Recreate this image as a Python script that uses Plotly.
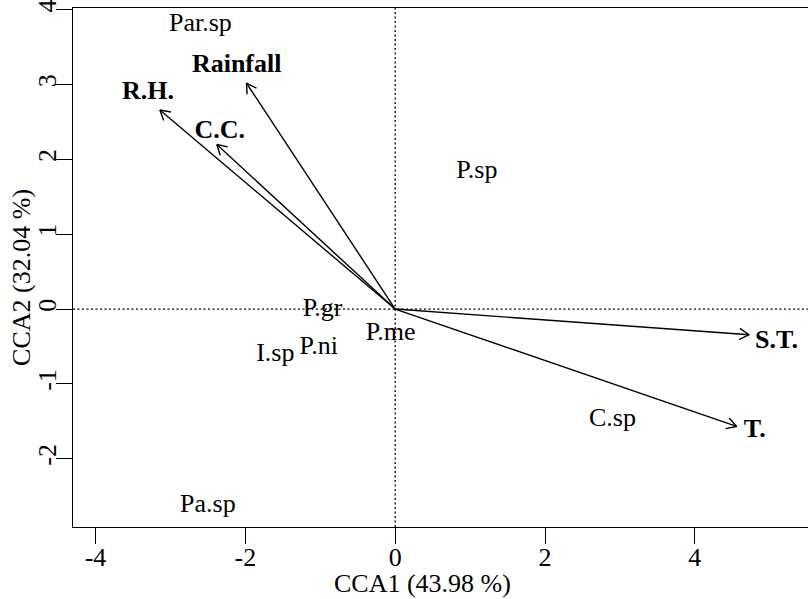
import math
import plotly.graph_objects as go

# Species scores (CCA1, CCA2)
species = ["Par.sp", "Pa.sp", "P.gr", "P.me", "P.ni", "I.sp", "P.sp", "C.sp"]
species_x = [-2.60, -2.50, -0.97, -0.06, -1.02, -1.60, 1.09, 2.90]
species_y = [3.80, -2.63, 0.00, -0.32, -0.52, -0.61, 1.84, -1.47]

# Environmental variable arrows (tips) and label positions
env = ["Rainfall", "R.H.", "C.C.", "S.T.", "T."]
env_x = [-1.985, -3.14, -2.38, 4.725, 4.557]
env_y = [3.02, 2.66, 2.20, -0.343, -1.569]
env_lab_x = [-2.115, -3.30, -2.34, 5.09, 4.80]
env_lab_y = [3.26, 2.90, 2.37, -0.43, -1.62]

x_ticks = [-4, -2, 0, 2, 4]
x_ticktext = ["-4", "-2", "0", "2", "4"]
y_ticks = [-2, -1, 0, 1, 2, 3, 4]
y_ticktext = ["-2", "-1", "0", "1", "2", "3", "4"]
x_title = "CCA1 (43.98 %)"
y_title = "CCA2 (32.04 %)"

FONT = "Liberation Serif"
FS = 26
HEAD_LEN = 0.15
HEAD_ANG = math.radians(30)

fig = go.Figure()

# arrows: shafts + open heads
ax, ay = [], []
for tx, ty in zip(env_x, env_y):
    ax += [0, tx, None]
    ay += [0, ty, None]
    th = math.atan2(ty, tx)
    for s in (1, -1):
        a = th + s * HEAD_ANG
        ax += [tx, tx - HEAD_LEN * math.cos(a), None]
        ay += [ty, ty - HEAD_LEN * math.sin(a), None]

fig.add_trace(go.Scatter(x=ax, y=ay, mode="lines",
                         line=dict(color="black", width=1.4),
                         hoverinfo="skip", showlegend=False))

fig.add_trace(go.Scatter(x=species_x, y=species_y, mode="text", text=species,
                         textposition="middle center",
                         textfont=dict(family=FONT, size=FS, color="black"),
                         hoverinfo="skip", showlegend=False))

fig.add_trace(go.Scatter(x=env_lab_x, y=env_lab_y, mode="text",
                         text=["<b>%s</b>" % e for e in env],
                         textposition="middle center",
                         textfont=dict(family=FONT, size=FS, color="black"),
                         hoverinfo="skip", showlegend=False))

# dotted reference lines
fig.add_shape(type="line", xref="x", yref="paper", x0=0, x1=0, y0=0, y1=1,
              line=dict(color="black", width=1.3, dash="2px,2.5px"), layer="below")
fig.add_shape(type="line", xref="paper", yref="y", x0=0, x1=1, y0=0, y1=0,
              line=dict(color="black", width=1.3, dash="2px,2.5px"), layer="below")

fig.add_annotation(text=x_title, xref="paper", yref="paper", x=0.476, y=0,
                   xanchor="center", yanchor="middle", yshift=-56, showarrow=False,
                   font=dict(family=FONT, size=FS, color="black"))
fig.add_annotation(text=y_title, xref="paper", yref="paper", x=0, y=0.48,
                   xanchor="center", yanchor="middle", xshift=-51, textangle=-90,
                   showarrow=False, font=dict(family=FONT, size=FS, color="black"))

fig.update_layout(
    width=808, height=599,
    margin=dict(l=73, r=0, t=8, b=72, autoexpand=False),
    paper_bgcolor="white", plot_bgcolor="white",
    hovermode=False,
    font=dict(family=FONT, size=FS, color="black"),
    xaxis=dict(range=[-4.30, 5.51], tickvals=x_ticks, ticktext=x_ticktext,
               ticks="outside", ticklen=16, ticklabelstandoff=-9,
               tickwidth=1.2, tickcolor="black", showline=True, linecolor="black",
               linewidth=1.2, mirror=True, showgrid=False, zeroline=False,
               automargin=False, tickfont=dict(family=FONT, size=FS)),
    yaxis=dict(range=[-2.913, 4.024], tickvals=y_ticks, ticktext=y_ticktext,
               ticks="outside", ticklen=16, ticklabelstandoff=-10,
               ticklabeloverflow="allow",
               tickwidth=1.2, tickcolor="black", showline=True, linecolor="black",
               linewidth=1.2, showgrid=False, zeroline=False, tickangle=-90,
               automargin=False, tickfont=dict(family=FONT, size=FS)),
)

fig.write_html("out.html", config={"displayModeBar": False},
               post_script="document.body.style.margin='0';document.body.style.overflow='hidden';")
